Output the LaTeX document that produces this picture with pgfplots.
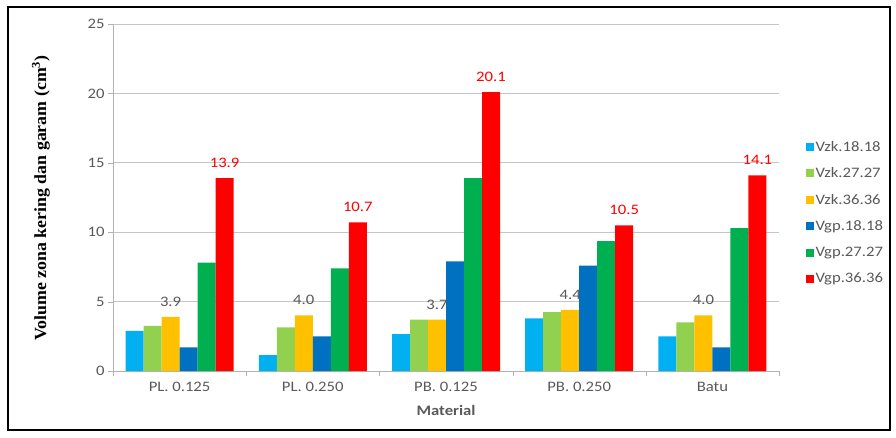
\documentclass[border=0pt]{standalone}
\usepackage{fontspec}
\setmainfont{Carlito}[FakeStretch=1.15]
\newfontfamily\tnr{Liberation Serif}[FakeStretch=1.05]
\usepackage{pgfplots}
\pgfplotsset{compat=1.18}

\definecolor{cVzkA}{HTML}{00B0F0}
\definecolor{cVzkB}{HTML}{92D050}
\definecolor{cVzkC}{HTML}{FFC000}
\definecolor{cVgpA}{HTML}{0070C0}
\definecolor{cVgpB}{HTML}{00B050}
\definecolor{cVgpC}{HTML}{FF0000}
\definecolor{txt}{HTML}{595959}

\begin{document}
\begin{tikzpicture}[x=1pt,y=1pt]
\path[use as bounding box] (0,0) rectangle (896,437);
\draw[black, line width=1.5pt] (8,7) rectangle (890,430);

\begin{axis}[
    at={(113pt,66pt)}, anchor=south west,
    scale only axis, width=666pt, height=347pt,
    ybar=0pt, bar width=18pt,
    xmin=-0.5, xmax=4.5,
    ymin=0, ymax=25,
    ytick={0,5,10,15,20,25},
    xtick={0,1,2,3,4},
    xticklabels={PL. 0.125, PL. 0.250, PB. 0.125, PB. 0.250, Batu},
    minor xtick={-0.5,0.5,1.5,2.5,3.5,4.5},
    major x tick style={draw=none},
    minor tick length=5pt,
    major tick length=5pt,
    tick align=outside,
    tick style={gray!60},
    axis x line*=bottom, axis y line*=left,
    axis line style={gray!60, -},
    ymajorgrids=true,
    grid style={gray!45, line width=0.7pt},
    tick label style={font=\fontsize{14.5}{16}\selectfont, text=txt},
    x tick label style={yshift=-3pt},
    /pgf/number format/assume math mode=true,
    xlabel={\textbf{Material}},
    xlabel style={font=\fontsize{14.5}{16}\selectfont, text=txt, yshift=-6pt},
    legend style={at={(1.035,0.675)}, anchor=north west, draw=none, fill=none,
        font=\fontsize{14.5}{16}\selectfont, text=txt, row sep=11pt,
        legend cell align=left},
    legend image code/.code={\fill[#1, draw=none] (0pt,-4pt) rectangle (8pt,4pt);},
    every node near coord/.append style={font=\fontsize{14.5}{16}\selectfont, yshift=7pt},
]
\addplot[fill=cVzkA, draw=none] coordinates {(0,2.9) (1,1.15) (2,2.65) (3,3.8) (4,2.5)};
\addlegendentry{Vzk.18.18}
\addplot[fill=cVzkB, draw=none] coordinates {(0,3.25) (1,3.15) (2,3.7) (3,4.25) (4,3.5)};
\addlegendentry{Vzk.27.27}
\addplot[fill=cVzkC, draw=none, nodes near coords={\pgfmathprintnumber[fixed,fixed zerofill,precision=1]{\pgfplotspointmeta}},
    every node near coord/.append style={text=txt}]
    coordinates {(0,3.9) (1,4.0) (2,3.7) (3,4.4) (4,4.0)};
\addlegendentry{Vzk.36.36}
\addplot[fill=cVgpA, draw=none] coordinates {(0,1.7) (1,2.5) (2,7.9) (3,7.6) (4,1.7)};
\addlegendentry{Vgp.18.18}
\addplot[fill=cVgpB, draw=none] coordinates {(0,7.8) (1,7.4) (2,13.9) (3,9.35) (4,10.3)};
\addlegendentry{Vgp.27.27}
\addplot[fill=cVgpC, draw=none, nodes near coords={\pgfmathprintnumber[fixed,fixed zerofill,precision=1]{\pgfplotspointmeta}},
    every node near coord/.append style={text=cVgpC}]
    coordinates {(0,13.9) (1,10.7) (2,20.1) (3,10.5) (4,14.1)};
\addlegendentry{Vgp.36.36}
\end{axis}

\node[rotate=90, font=\tnr\bfseries\fontsize{17}{19}\selectfont] at (41,239)
    {Volume zona kering dan garam (cm\textsuperscript{3})};
\end{tikzpicture}
\end{document}
